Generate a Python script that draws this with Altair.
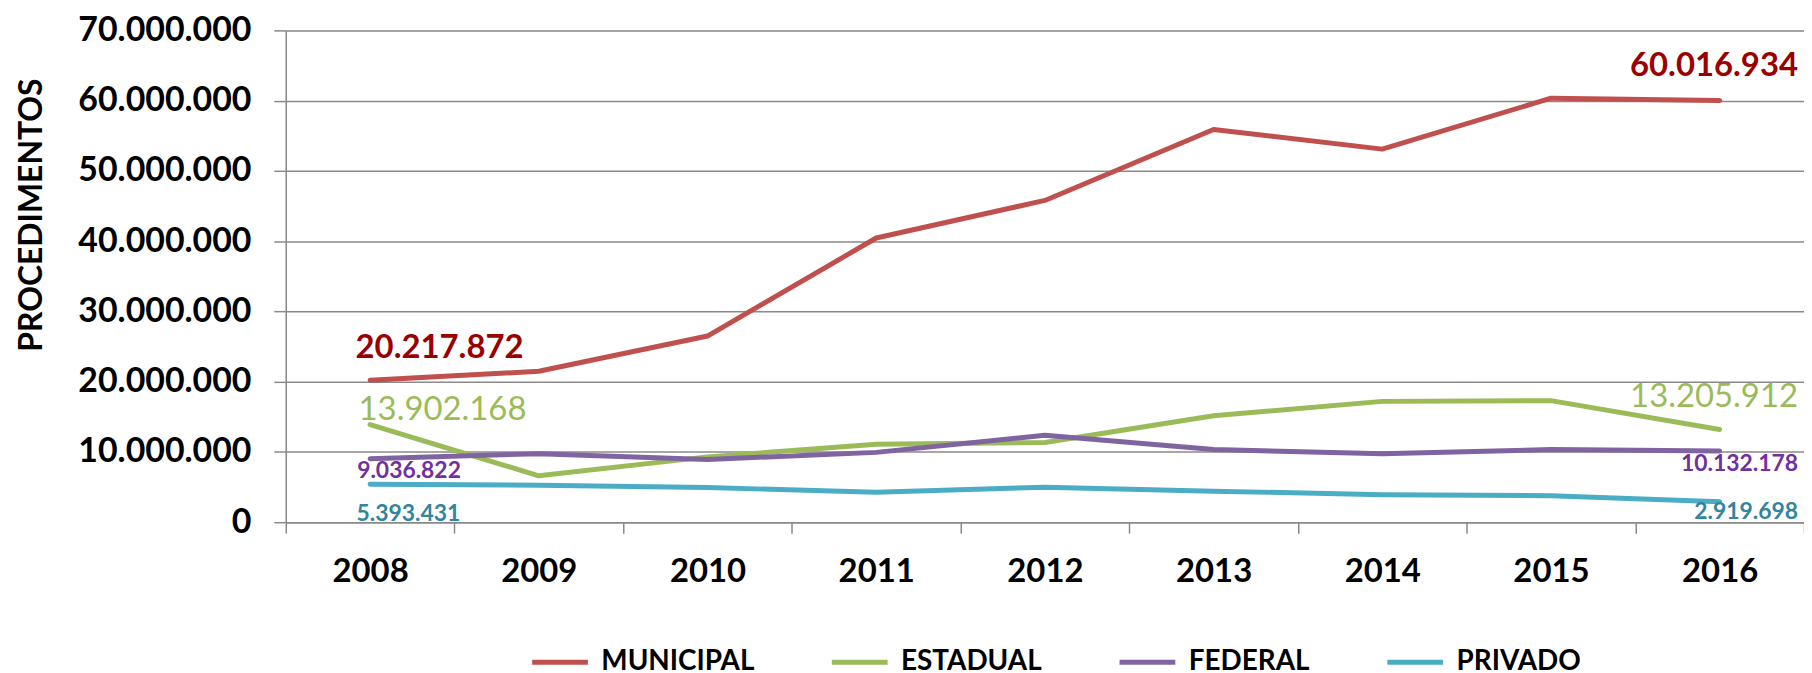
import altair as alt
import pandas as pd

years = ["2008", "2009", "2010", "2011", "2012", "2013", "2014", "2015", "2016"]
series_names = ["MUNICIPAL", "ESTADUAL", "FEDERAL", "PRIVADO"]
line_colors = ["#C0504D", "#9BBB59", "#8064A2", "#4BACC6"]

municipal = [20217872, 21480000, 26500000, 40450000, 45800000, 55900000, 53100000, 60350000, 60016934]
estadual = [13902168, 6600000, 9300000, 11100000, 11350000, 15150000, 17200000, 17300000, 13205912]
federal = [9036822, 9750000, 8930000, 9940000, 12370000, 10340000, 9740000, 10340000, 10132178]
privado = [5393431, 5270000, 4930000, 4270000, 4980000, 4420000, 3920000, 3770000, 2919698]

y_ticks = [0, 10000000, 20000000, 30000000, 40000000, 50000000, 60000000, 70000000]

all_series = [municipal, estadual, federal, privado]
rows = []
for name, vals in zip(series_names, all_series):
    for yr, v in zip(years, vals):
        rows.append({"year": yr, "series": name, "value": v})
df = pd.DataFrame(rows)

W, H = 1525, 494
FONT = "Lato"
GRID = "#8A8A8A"

x_enc = alt.X(
    "year:O",
    scale=alt.Scale(type="band", domain=years, paddingInner=0, paddingOuter=0),
    axis=alt.Axis(
        title=None, labelAngle=0, tickBand="extent", grid=False,
        domain=True, domainColor=GRID, domainWidth=1.5,
        ticks=True, tickColor=GRID, tickSize=11, tickWidth=1.5,
        labelFont=FONT, labelFontSize=33, labelFontWeight="bold", labelColor="#000000",
        labelBaseline="alphabetic", labelPadding=49,
    ),
)
y_enc = alt.Y(
    "value:Q",
    scale=alt.Scale(domain=[0, 70000000], nice=False),
    axis=alt.Axis(
        title="PROCEDIMENTOS", values=y_ticks,
        labelExpr="format(datum.value, ',')",
        grid=True, gridColor=GRID, gridWidth=1.5,
        domain=True, domainColor=GRID, domainWidth=1.5,
        ticks=True, tickColor=GRID, tickSize=12, tickWidth=1.5,
        labelFont=FONT, labelFontSize=34, labelFontWeight="bold", labelColor="#000000",
        labelPadding=23,
        titleFont=FONT, titleFontSize=32, titleFontWeight="bold", titleColor="#000000",
        titleAngle=270, titleAlign="center", titleBaseline="alphabetic",
        titleX=-245, titleY=185,
    ),
)

lines = alt.Chart(df).mark_line(strokeWidth=5, strokeCap="round", strokeJoin="round").encode(
    x=x_enc,
    y=y_enc,
    color=alt.Color(
        "series:N",
        scale=alt.Scale(domain=series_names, range=line_colors),
        sort=series_names,
        legend=alt.Legend(
            title=None, orient="none", direction="horizontal",
            legendX=245, legendY=604,
            symbolType="stroke", symbolSize=3136, symbolStrokeWidth=5,
            labelFont=FONT, labelFontSize=28, labelFontWeight="bold", labelColor="#000000",
            labelOffset=11, columnPadding=67, padding=0,
        ),
    ),
)


def label(vals, idx, color, size, weight, align, dx, dy):
    d = pd.DataFrame({"year": [years[idx]], "value": [vals[idx]]})
    return alt.Chart(d).mark_text(
        align=align, baseline="alphabetic", dx=dx, dy=dy,
        font=FONT, fontSize=size, fontWeight=weight, color=color,
    ).encode(x=x_enc, y=y_enc, text=alt.Text("value:Q", format=","))


labels = [
    label(municipal, 0, "#990000", 33, "bold", "left", -14.6, -22),
    label(estadual, 0, "#9BBB59", 33, "normal", "left", -11.6, -5),
    label(federal, 0, "#7030A0", 23, "bold", "left", -13, 19.4),
    label(privado, 0, "#31859C", 23, "bold", "left", -13.6, 36.5),
    label(municipal, 8, "#990000", 33, "bold", "right", 78.7, -24.5),
    label(estadual, 8, "#9BBB59", 33, "normal", "right", 78.7, -22.8),
    label(federal, 8, "#7030A0", 23, "bold", "right", 78.7, 20.5),
    label(privado, 8, "#31859C", 23, "bold", "right", 78.7, 17.2),
]

chart = alt.layer(lines, *labels).properties(
    width=W, height=H,
    autosize=alt.AutoSizeParams(type="none"),
    padding={"left": 279, "top": 21, "right": 0, "bottom": 160},
).configure_view(stroke=None).configure(
    locale={"number": {"decimal": ",", "thousands": ".", "grouping": [3], "currency": ["R$", ""]}}
)

chart.save("out.html", embed_options={"renderer": "svg", "actions": False})
